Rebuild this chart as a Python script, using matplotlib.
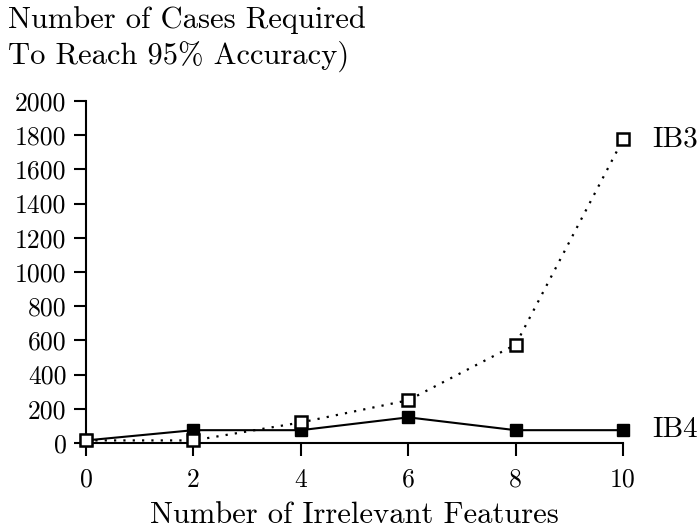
import matplotlib
matplotlib.use("Agg")
import matplotlib.pyplot as plt

plt.rcParams['font.family'] = ['cmr10', 'DejaVu Serif']
plt.rcParams['axes.unicode_minus'] = False
plt.rcParams['mathtext.fontset'] = 'cm'

features = [0, 2, 4, 6, 8, 10]
ib3 = [15, 15, 120, 250, 575, 1775]
ib4 = [15, 75, 75, 150, 75, 75]
yticks = [0, 200, 400, 600, 800, 1000, 1200, 1400, 1600, 1800, 2000]
xticks = [0, 2, 4, 6, 8, 10]

fig = plt.figure(figsize=(7.0, 5.29), dpi=100)
ax = fig.add_axes([86 / 700, 86 / 529, (623 - 86) / 700, (443 - 101) / 529])

ax.plot(features, ib4, color='black', lw=1.5, ls='-', marker='s', ms=9,
        mfc='black', mec='black', zorder=3, clip_on=False)
ax.plot(features, ib3, color='black', lw=1.6, ls=(0, (1, 3.2)), marker='s', ms=8.5,
        mfc='white', mec='black', mew=1.8, zorder=4, clip_on=False)

ax.set_xlim(0, 10)
ax.set_ylim(0, 2000)
ax.set_xticks(xticks)
ax.set_yticks(yticks)
ax.spines['top'].set_visible(False)
ax.spines['right'].set_visible(False)
for s in ['left', 'bottom']:
    ax.spines[s].set_linewidth(1.5)
ax.tick_params(axis='both', direction='out', length=9, width=1.5, labelsize=18.5, pad=5)
ax.tick_params(axis='x', pad=9)

ax.set_xlabel('Number of Irrelevant Features', fontsize=22, labelpad=7)

ax.annotate('IB3', xy=(features[-1], ib3[-1]), xytext=(21, 0), textcoords='offset points',
            ha='left', va='center', fontsize=21, annotation_clip=False)
ax.annotate('IB4', xy=(features[-1], ib4[-1]), xytext=(21, 0), textcoords='offset points',
            ha='left', va='center', fontsize=21, annotation_clip=False)

fig.text(0.011, 0.988, 'Number of Cases Required\nTo Reach 95% Accuracy)',
         ha='left', va='top', fontsize=22, linespacing=1.28)

fig.savefig('out.png', dpi=100)
